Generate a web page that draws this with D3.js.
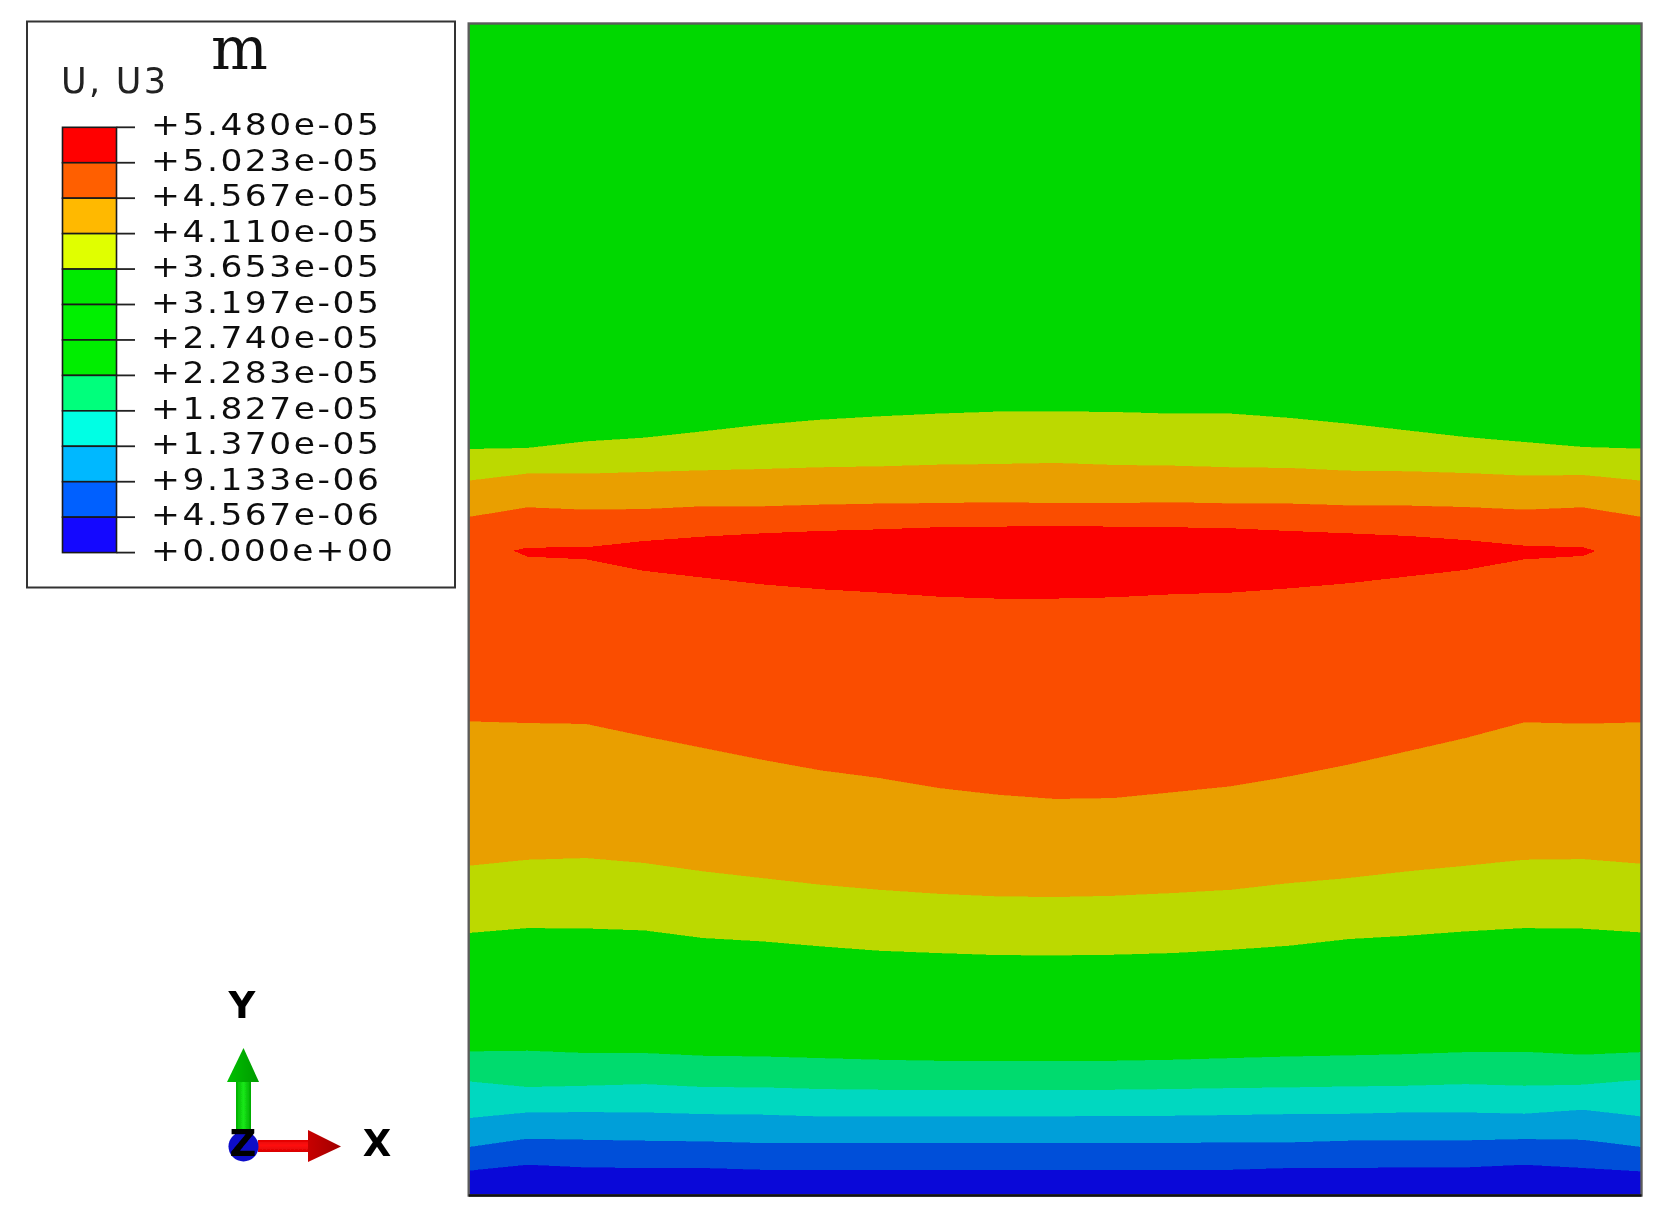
<!DOCTYPE html>
<html>
<head>
<meta charset="utf-8">
<script src="https://cdnjs.cloudflare.com/ajax/libs/d3/7.8.5/d3.min.js"></script>
<style>
html,body{margin:0;padding:0;background:#fff;overflow:hidden}
svg{display:block}
text{font-family:"DejaVu Sans",sans-serif}
</style>
</head>
<body>
<svg id="chart" width="1678" height="1228"></svg>
<script>
// Contour legend
const legendTitle = "U, U3";
const unitLabel = "m";
const legendLabels = ["+5.480e-05","+5.023e-05","+4.567e-05","+4.110e-05","+3.653e-05","+3.197e-05","+2.740e-05","+2.283e-05","+1.827e-05","+1.370e-05","+9.133e-06","+4.567e-06","+0.000e+00"];
const legendColors = ["#ff0000","#ff5f00","#ffb900","#e0ff00","#00ea00","#00f000","#00ee00","#00ff7c","#00ffe4","#00b8ff","#0060ff","#1408ff"];

// Stations along the model width (0-100)
const stations = [0,5,10,15,20,25,30,35,40,45,50,55,60,65,70,75,80,85,90,95,100];
const lensStations = [3.8,5,10,15,20,25,30,35,40,45,50,55,60,65,70,75,80,85,90,95,96.1];

// Contour boundaries: height (0-100) at each station, top to bottom
const edgeA = [63.67,63.76,64.32,64.64,65.18,65.75,66.17,66.46,66.69,66.86,66.88,66.83,66.69,66.69,66.32,65.83,65.26,64.69,64.27,63.84,63.70];
const edgeB = [60.97,61.57,61.57,61.71,61.85,61.96,62.11,62.19,62.33,62.39,62.48,62.31,62.25,62.11,62.05,61.82,61.77,61.62,61.40,61.45,60.97];
const edgeC = [57.87,58.69,58.49,58.55,58.78,58.78,58.92,59.01,59.06,59.12,59.06,59.06,59.12,59.03,59.01,58.86,58.84,58.72,58.49,58.69,57.87];
const edgeD = [40.43,40.29,40.21,39.15,38.16,37.16,36.25,35.60,34.75,34.18,33.81,33.89,34.38,34.89,35.74,36.74,37.87,39.01,40.35,40.23,40.35];
const edgeE = [28.11,28.62,28.77,28.34,27.63,27.06,26.49,26.06,25.72,25.50,25.44,25.55,25.78,26.06,26.63,27.06,27.63,28.11,28.62,28.68,28.28];
const edgeF = [22.37,22.79,22.76,22.59,21.94,21.66,21.23,20.86,20.66,20.49,20.46,20.52,20.66,20.94,21.29,21.85,22.14,22.51,22.79,22.74,22.42];
const edgeG = [12.27,12.33,12.13,12.13,11.90,11.84,11.70,11.56,11.47,11.47,11.47,11.47,11.56,11.70,11.84,11.93,12.04,12.21,12.24,11.99,12.21];
const edgeH = [9.71,9.23,9.34,9.48,9.23,9.20,9.06,9.00,9.00,9.00,9.00,9.00,9.06,9.14,9.20,9.28,9.34,9.48,9.34,9.43,9.85];
const edgeI = [6.58,7.06,7.09,7.06,6.92,6.87,6.72,6.72,6.72,6.72,6.72,6.78,6.78,6.84,6.92,6.95,7.06,7.06,6.95,7.29,6.72];
const edgeJ = [4.11,4.82,4.73,4.65,4.59,4.45,4.45,4.45,4.45,4.45,4.45,4.45,4.45,4.51,4.51,4.65,4.68,4.68,4.79,4.73,4.11];
const edgeK = [2.09,2.60,2.37,2.32,2.32,2.17,2.17,2.17,2.17,2.17,2.17,2.17,2.17,2.17,2.32,2.32,2.37,2.37,2.60,2.32,2.03];
const lensTop = [55.02,55.28,55.31,55.85,56.22,56.50,56.70,56.84,57.02,57.07,57.13,57.07,57.02,56.93,56.70,56.50,56.28,55.93,55.45,55.31,55.00];
const lensBottom = [55.02,54.51,54.28,53.29,52.72,52.15,51.73,51.44,51.10,50.93,50.93,51.04,51.30,51.44,51.81,52.24,52.81,53.38,54.28,54.57,55.00];

const bandColors = ["#00d800","#bcd900","#e99f00","#fa4d00","#e99f00","#bcd900","#00d800","#00db6e","#00d8c0","#009fd9","#004fd9","#0a08d8"];
const lensColor = "#fc0000";

const svg = d3.select("#chart");
const defs = svg.append("defs");
defs.append("filter").attr("id","soft").append("feGaussianBlur").attr("stdDeviation",0.6);
const shaftG = defs.append("linearGradient").attr("id","shaftG");
[["0%","#00b000"],["50%","#18e818"],["100%","#00a800"]].forEach(s=>shaftG.append("stop").attr("offset",s[0]).attr("stop-color",s[1]));
const headG = defs.append("linearGradient").attr("id","headG").attr("x1",0).attr("y1",0).attr("x2",1).attr("y2",0);
[["0%","#00c000"],["100%","#009a00"]].forEach(s=>headG.append("stop").attr("offset",s[0]).attr("stop-color",s[1]));
const shaftR = defs.append("linearGradient").attr("id","shaftR").attr("x1",0).attr("y1",0).attr("x2",0).attr("y2",1);
[["0%","#e00000"],["45%","#ff1010"],["100%","#d80000"]].forEach(s=>shaftR.append("stop").attr("offset",s[0]).attr("stop-color",s[1]));
const headR = defs.append("linearGradient").attr("id","headR").attr("x1",0).attr("y1",0).attr("x2",1).attr("y2",0);
[["0%","#c80000"],["100%","#a00000"]].forEach(s=>headR.append("stop").attr("offset",s[0]).attr("stop-color",s[1]));

// Scales
const x = d3.scaleLinear().domain([0,100]).range([468.7,1641.5]);
const y = d3.scaleLinear().domain([0,100]).range([1195.5,23.5]);

// Bands from the stacked boundaries
const topEdge = stations.map(()=>100);
const botEdge = stations.map(()=>0);
const edges = [topEdge,edgeA,edgeB,edgeC,edgeD,edgeE,edgeF,edgeG,edgeH,edgeI,edgeJ,edgeK,botEdge];
const area = d3.area().x(d=>x(d.x)).y0(d=>y(d.lo)).y1(d=>y(d.hi));
const model = svg.append("g");
bandColors.forEach((c,i)=>{
  const pts = stations.map((s,k)=>({x:s,hi:edges[i][k],lo:edges[i+1][k]}));
  model.append("path").attr("d",area(pts)).attr("fill",c).attr("stroke",c).attr("stroke-width",0.6).attr("shape-rendering","crispEdges");
});
model.append("path")
  .attr("d",area(lensStations.map((s,k)=>({x:s,hi:lensTop[k],lo:lensBottom[k]}))))
  .attr("fill",lensColor).attr("shape-rendering","crispEdges");
// Model outline
svg.append("rect").attr("x",x(0)).attr("y",y(100)).attr("width",x(100)-x(0)).attr("height",y(0)-y(100))
  .attr("fill","none").attr("stroke","#5c5c5c").attr("stroke-width",2.4);
svg.append("line").attr("x1",x(0)).attr("x2",x(100)).attr("y1",y(0)).attr("y2",y(0)).attr("stroke","#111").attr("stroke-width",2.4);

// Legend
const legend = svg.append("g");
legend.append("rect").attr("x",27).attr("y",21.5).attr("width",428).attr("height",566)
  .attr("fill","#fff").attr("stroke","#333").attr("stroke-width",2);
const ly = d3.scalePoint().domain(legendLabels).range([127.3,552.6]);
legendColors.forEach((c,i)=>{
  legend.append("rect").attr("x",62.5).attr("width",54)
    .attr("y",ly(legendLabels[i])).attr("height",ly(legendLabels[i+1])-ly(legendLabels[i]))
    .attr("fill",c).attr("stroke","#1a1a1a").attr("stroke-width",1.6);
});
const ltxt = legend.append("g").attr("filter","url(#soft)");
legendLabels.forEach(l=>{
  legend.append("line").attr("x1",116.5).attr("x2",135).attr("y1",ly(l)).attr("y2",ly(l)).attr("stroke","#222").attr("stroke-width",1.8);
  ltxt.append("text").attr("transform",`translate(151,${ly(l)+8}) scale(1.15,1)`)
    .attr("font-size",30).attr("fill","#111")
    .attr("letter-spacing",l.endsWith("+00") ? 1.96 : 2.2).text(l);
});
ltxt.append("text").attr("x",61).attr("y",93).attr("font-size",35).attr("fill","#222").attr("letter-spacing",2.3).text(legendTitle);
svg.append("text").attr("x",211).attr("y",69).attr("font-size",60)
  .style("font-family","'DejaVu Serif',serif").attr("fill","#111").text(unitLabel);

// Triad
const triad = svg.append("g").attr("filter","url(#soft)");
const line = d3.line();
triad.append("rect").attr("x",236).attr("y",1082).attr("width",15).attr("height",50).attr("fill","url(#shaftG)");
triad.append("path").attr("d",line([[243.5,1048],[259,1082],[227,1082]])+"Z").attr("fill","url(#headG)");
triad.append("rect").attr("x",258).attr("y",1140).attr("width",52).attr("height",12).attr("fill","url(#shaftR)");
triad.append("path").attr("d",line([[341,1146.5],[308,1130],[308,1162]])+"Z").attr("fill","url(#headR)");
triad.append("circle").attr("cx",243.5).attr("cy",1146.5).attr("r",15).attr("fill","#0a0ac8");
[["Y",242,1018],["Z",243,1156],["X",377,1156]].forEach(t=>{
  triad.append("text").attr("x",t[1]).attr("y",t[2]).attr("text-anchor","middle")
    .attr("font-size",37).attr("font-weight","bold").attr("fill","#000").text(t[0]);
});
</script>
</body>
</html>
